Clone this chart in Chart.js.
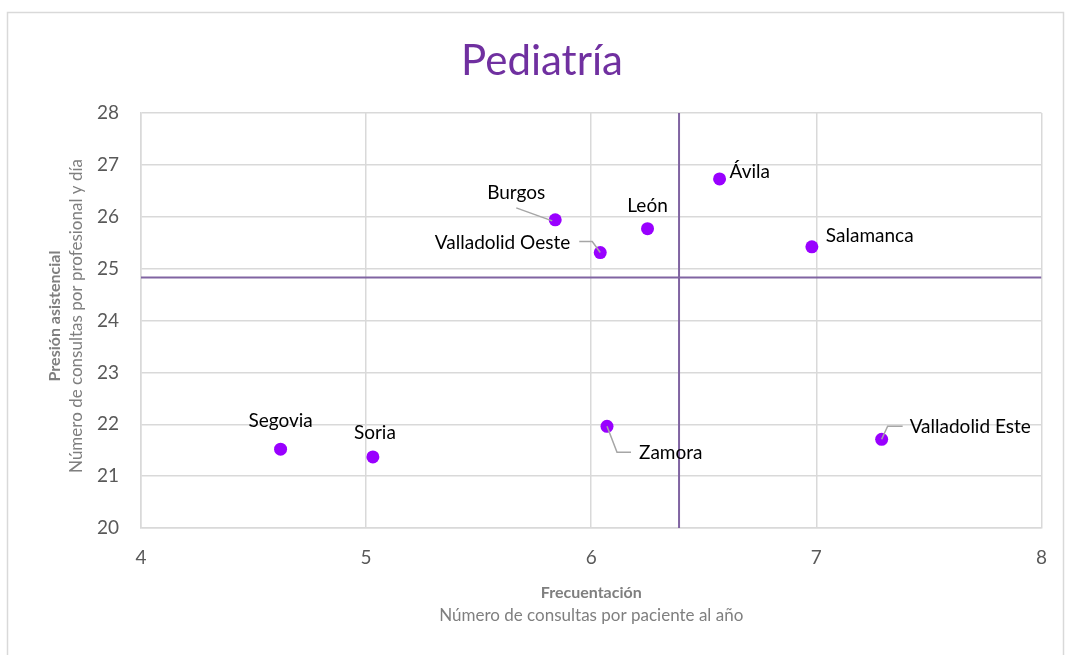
<!DOCTYPE html>
<html>
<head>
<meta charset="utf-8">
<script src="https://cdn.jsdelivr.net/npm/chart.js@4.4.1/dist/chart.umd.min.js"></script>
<style>
  html, body { margin: 0; padding: 0; background: #fff; }
  #wrap { width: 1065px; height: 655px; }
</style>
</head>
<body>
<div id="wrap"><canvas id="chart"></canvas></div>
<script>
// datos
const zonas = ['Ávila', 'Burgos', 'León', 'Salamanca', 'Segovia', 'Soria', 'Valladolid Este', 'Valladolid Oeste', 'Zamora'];
const frecuentacion = [6.57, 5.84, 6.25, 6.98, 4.62, 5.03, 7.29, 6.04, 6.07];
const presion = [26.73, 25.94, 25.77, 25.42, 21.52, 21.37, 21.71, 25.31, 21.96];
const refFrecuentacion = 6.39;
const refPresion = 24.83;
const xTicks = [4, 5, 6, 7, 8];
const yTicks = [20, 21, 22, 23, 24, 25, 26, 27, 28];

const FONT = 'Lato, "Open Sans", sans-serif';
const MORADO = '#7030a0';
const PUNTO = '#9900ff';
const LINEA_REF = '#8064a2';
const GRIS = '#d9d9d9';

// posición de las etiquetas (px respecto al punto) y líneas guía
const etiquetas = {
  'Ávila':            { dx: 10,  dy: -7,  align: 'left' },
  'Burgos':           { dx: -39, dy: -27, align: 'center', guia: [[-39, -12], [-3, 1]] },
  'León':             { dx: 0,   dy: -23, align: 'center' },
  'Salamanca':        { dx: 14,  dy: -11, align: 'left' },
  'Segovia':          { dx: 0,   dy: -28, align: 'center' },
  'Soria':            { dx: 2,   dy: -24, align: 'center' },
  'Valladolid Este':  { dx: 28,  dy: -12, align: 'left',  guia: [[0, 0], [6, -13], [21, -13]] },
  'Valladolid Oeste': { dx: -30, dy: -10, align: 'right', guia: [[-21, -11], [-8, -11], [0, 0]] },
  'Zamora':           { dx: 32,  dy: 27,  align: 'left',  guia: [[0, 0], [10, 26], [24, 26]] }
};

const puntos = zonas.map((z, i) => ({ x: frecuentacion[i], y: presion[i] }));

const decoracion = {
  id: 'decoracion',
  beforeDraw(chart) {
    const c = chart.ctx;
    c.save();
    c.strokeStyle = GRIS;
    c.lineWidth = 1.5;
    c.strokeRect(7.5, 12.5, 1056, 660);
    c.restore();
  },
  afterDraw(chart) {
    const c = chart.ctx;
    const a = chart.chartArea;
    const meta = chart.getDatasetMeta(2);
    c.save();
    // título
    c.font = '42px ' + FONT;
    c.fillStyle = MORADO;
    c.textAlign = 'center';
    c.textBaseline = 'alphabetic';
    c.fillText('Pediatría', 542, 75);
    // etiquetas de datos
    c.font = '19px ' + FONT;
    c.fillStyle = '#000';
    c.textBaseline = 'middle';
    meta.data.forEach((el, i) => {
      const e = etiquetas[zonas[i]];
      if (e.guia) {
        c.strokeStyle = '#a6a6a6';
        c.lineWidth = 1.5;
        c.beginPath();
        e.guia.forEach((p, k) => {
          if (k === 0) c.moveTo(el.x + p[0], el.y + p[1]);
          else c.lineTo(el.x + p[0], el.y + p[1]);
        });
        c.stroke();
      }
      c.textAlign = e.align;
      c.fillText(zonas[i], el.x + e.dx, el.y + e.dy);
    });
    // títulos de los ejes
    const cx = (a.left + a.right) / 2;
    c.textAlign = 'center';
    c.fillStyle = '#7f7f7f';
    c.font = 'bold 16px ' + FONT;
    c.fillText('Frecuentación', cx, 593);
    c.font = '17px ' + FONT;
    c.fillText('Número de consultas por paciente al año', cx, 616);
    c.translate(0, 316);
    c.rotate(-Math.PI / 2);
    c.font = 'bold 16px ' + FONT;
    c.fillText('Presión asistencial', 0, 55);
    c.font = '17px ' + FONT;
    c.fillText('Número de consultas por profesional y día', 0, 77);
    c.restore();
  }
};

new Chart(document.getElementById('chart'), {
  type: 'scatter',
  data: {
    datasets: [
      {
        label: 'refX',
        data: [{ x: refFrecuentacion, y: 20 }, { x: refFrecuentacion, y: 28 }],
        showLine: true, pointRadius: 0, borderColor: LINEA_REF, borderWidth: 2, order: 2
      },
      {
        label: 'refY',
        data: [{ x: 4, y: refPresion }, { x: 8, y: refPresion }],
        showLine: true, pointRadius: 0, borderColor: LINEA_REF, borderWidth: 2, order: 1
      },
      {
        label: 'Pediatría',
        data: puntos,
        pointRadius: 6.5,
        pointHoverRadius: 6.5,
        backgroundColor: PUNTO,
        borderWidth: 0,
        order: 0
      }
    ]
  },
  options: {
    responsive: true,
    maintainAspectRatio: false,
    animation: false,
    layout: { padding: { left: 0, right: 18, top: 113, bottom: 0 } },
    plugins: {
      legend: { display: false },
      tooltip: { enabled: false },
      title: { display: false }
    },
    scales: {
      x: {
        min: 4, max: 8,
        afterBuildTicks: s => { s.ticks = xTicks.map(v => ({ value: v })); },
        afterFit: s => { s.height = 127; },
        grid: { color: GRIS, lineWidth: 1.5, drawTicks: false },
        border: { color: GRIS, width: 1.5 },
        ticks: { color: '#595959', font: { family: FONT, size: 19 }, padding: 18 }
      },
      y: {
        min: 20, max: 28,
        afterBuildTicks: s => { s.ticks = yTicks.map(v => ({ value: v })); },
        afterFit: s => { s.width = 141; },
        grid: { color: GRIS, lineWidth: 1.5, drawTicks: false },
        border: { color: GRIS, width: 1.5 },
        ticks: { color: '#595959', font: { family: FONT, size: 19 }, padding: 22 }
      }
    }
  },
  plugins: [decoracion]
});
</script>
</body>
</html>
